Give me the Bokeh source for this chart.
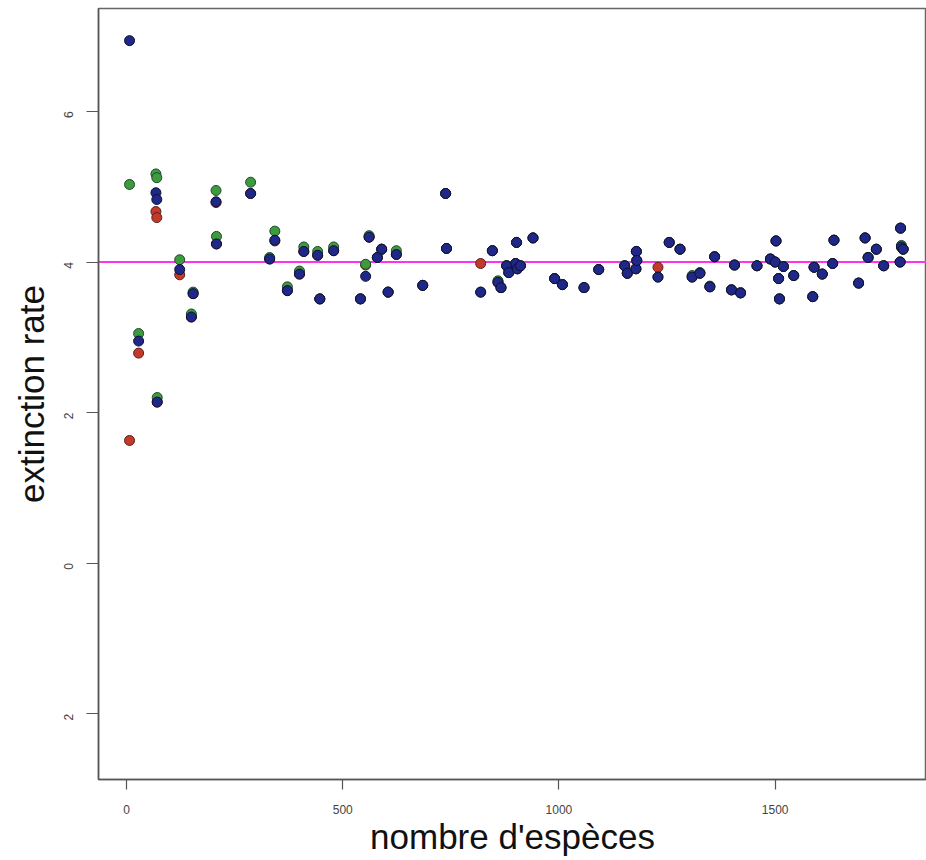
import math
from bokeh.plotting import figure
from bokeh.models import Range1d, Span, FixedTicker
from bokeh.embed import file_html
from bokeh.resources import INLINE

# ---- data ----
species = [7, 28, 68, 70, 71, 123, 150, 154, 207, 208, 287, 331, 343, 372, 400,
           410, 442, 447, 479, 541, 553, 561, 580, 590, 605, 624, 685, 738, 740,
           819, 846, 859, 866, 879, 884, 900, 902, 904, 911, 940, 990, 1008,
           1058, 1092, 1152, 1158, 1178, 1179, 1180, 1229, 1255, 1280, 1308,
           1326, 1349, 1360, 1399, 1406, 1420, 1458, 1489, 1500, 1502, 1508,
           1510, 1519, 1543, 1587, 1590, 1609, 1633, 1636, 1693, 1708, 1715,
           1734, 1751, 1789, 1790, 1792, 1796]

rate_red = [1.63, 2.79, 4.67, 4.59, 2.14, 3.83, 3.27, 3.58, 4.79, 4.24, 4.91, 4.04, 4.28, 3.62, 3.84,
            4.14, 4.09, 3.51, 4.15, 3.51, 3.96, 4.33, 4.06, 4.17, 3.60, 4.10, 3.69, 4.91, 4.18,
            3.98, 4.15, 3.73, 3.66, 3.95, 3.86, 3.98, 4.26, 3.91, 3.95, 4.32, 3.78, 3.70,
            3.66, 3.90, 3.95, 3.85, 3.91, 4.14, 4.02, 3.93, 4.26, 4.17, 3.80,
            3.85, 3.67, 4.07, 3.63, 3.96, 3.59, 3.95, 4.04, 4.00, 4.28, 3.78,
            3.51, 3.94, 3.82, 3.54, 3.93, 3.84, 3.98, 4.29, 3.72, 4.32, 4.06,
            4.17, 3.95, 4.00, 4.45, 4.20, 4.17]

rate_green = [5.03, 3.05, 5.17, 5.12, 2.20, 4.03, 3.31, 3.60, 4.95, 4.34, 5.06, 4.06, 4.41, 3.67, 3.88,
              4.20, 4.14, 3.51, 4.20, 3.51, 3.97, 4.35, 4.06, 4.17, 3.60, 4.15, 3.69, 4.91, 4.18,
              3.60, 4.15, 3.75, 3.66, 3.95, 3.86, 3.98, 4.26, 3.91, 3.95, 4.32, 3.78, 3.70,
              3.66, 3.90, 3.95, 3.85, 3.91, 4.14, 4.02, 3.80, 4.26, 4.17, 3.82,
              3.86, 3.68, 4.07, 3.63, 3.96, 3.59, 3.95, 4.04, 4.00, 4.28, 3.78,
              3.51, 3.94, 3.82, 3.54, 3.93, 3.84, 3.98, 4.29, 3.72, 4.32, 4.06,
              4.17, 3.95, 4.00, 4.45, 4.22, 4.17]

rate_blue = [6.94, 2.95, 4.92, 4.83, 2.14, 3.90, 3.27, 3.58, 4.80, 4.24, 4.91, 4.04, 4.29, 3.62, 3.84,
             4.14, 4.09, 3.51, 4.15, 3.51, 3.81, 4.33, 4.06, 4.17, 3.60, 4.10, 3.69, 4.91, 4.18,
             3.60, 4.15, 3.73, 3.66, 3.95, 3.86, 3.98, 4.26, 3.91, 3.95, 4.32, 3.78, 3.70,
             3.66, 3.90, 3.95, 3.85, 3.91, 4.14, 4.02, 3.80, 4.26, 4.17, 3.80,
             3.85, 3.67, 4.07, 3.63, 3.96, 3.59, 3.95, 4.04, 4.00, 4.28, 3.78,
             3.51, 3.94, 3.82, 3.54, 3.93, 3.84, 3.98, 4.29, 3.72, 4.32, 4.06,
             4.17, 3.95, 4.00, 4.45, 4.20, 4.17]

mean_rate = 4
x_ticks = [0, 500, 1000, 1500]
y_ticks = [-2, 0, 2, 4, 6]
y_tick_labels = {-2: "2", 0: "0", 2: "2", 4: "4", 6: "6"}

# ---- figure ----
p = figure(width=926, height=860, output_backend="svg", toolbar_location=None,
           x_range=Range1d(-64.8, 1850), y_range=Range1d(-2.873, 7.367),
           min_border_left=98, min_border_right=0, min_border_top=8,
           min_border_bottom=81)
p.background_fill_color = "white"
p.border_fill_color = "white"
p.outline_line_color = "#666666"
p.outline_line_width = 1.5
p.xgrid.visible = False
p.ygrid.visible = False

font = "Liberation Sans"
for ax in (p.xaxis[0], p.yaxis[0]):
    ax.axis_line_color = "#555555"
    ax.axis_line_width = 1.5
    ax.major_tick_line_color = "#555555"
    ax.major_tick_line_width = 1.2
    ax.minor_tick_line_color = None
    ax.major_tick_in = 0
    ax.major_label_text_font = font
    ax.major_label_text_font_size = "12px"
    ax.major_label_text_color = "#444444"
    ax.axis_label_text_font = font
    ax.axis_label_text_font_style = "normal"
    ax.axis_label_text_color = "#111111"

p.xaxis.ticker = FixedTicker(ticks=x_ticks)
p.xaxis.major_tick_out = 10
p.xaxis.major_label_standoff = 15
p.xaxis.axis_label = "nombre d'espèces"
p.xaxis.axis_label_text_font_size = "35px"
p.xaxis.axis_label_standoff = 0

p.yaxis.ticker = FixedTicker(ticks=y_ticks)
p.yaxis.major_label_overrides = y_tick_labels
p.yaxis.major_label_orientation = math.pi / 2
p.yaxis.major_tick_out = 12
p.yaxis.major_label_standoff = 18
p.yaxis.axis_label = "extinction rate"
p.yaxis.axis_label_text_font_size = "35px"
p.yaxis.axis_label_standoff = 6

p.add_layout(Span(location=mean_rate, dimension="width", line_color="#ff33ee",
                  line_width=2, level="underlay"))

p.scatter(species, rate_red, size=10, fill_color="#c33a2a", line_color="#5a1e1a", line_width=1)
p.scatter(species, rate_green, size=10, fill_color="#3e9a3e", line_color="#1e4a2a", line_width=1)
p.scatter(species, rate_blue, size=10, fill_color="#1f2888", line_color="#0e1030", line_width=1)

open("out.html", "w").write(file_html(p, INLINE))
